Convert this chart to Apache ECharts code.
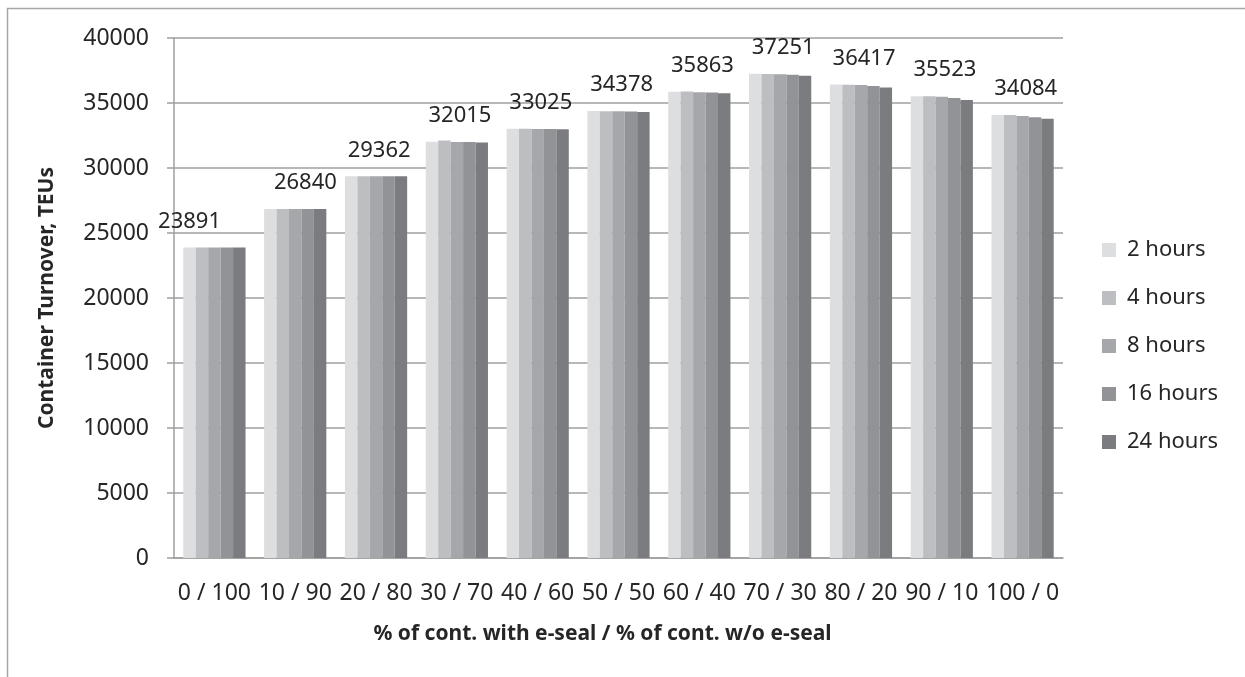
<!DOCTYPE html>
<html>
<head>
<meta charset="utf-8">
<title>Container Turnover by e-seal share</title>
<script src="https://cdn.jsdelivr.net/npm/echarts@6/dist/echarts.min.js"></script>
<style>
  html, body { margin: 0; padding: 0; background: #ffffff; }
  #chart { width: 1245px; height: 677px; }
</style>
</head>
<body>
<div id="chart"></div>
<script>
// Share of containers with e-seal / without e-seal
const categories = ['0 / 100', '10 / 90', '20 / 80', '30 / 70', '40 / 60', '50 / 50',
                    '60 / 40', '70 / 30', '80 / 20', '90 / 10', '100 / 0'];

// Container turnover (TEUs) for each inspection time window
const seriesNames = ['2 hours', '4 hours', '8 hours', '16 hours', '24 hours'];
const hours2  = [23891, 26840, 29362, 32015, 33025, 34378, 35863, 37251, 36417, 35523, 34084];
const hours4  = [23891, 26840, 29362, 32120, 33020, 34370, 35880, 37240, 36410, 35510, 34070];
const hours8  = [23891, 26840, 29362, 32000, 33000, 34360, 35830, 37220, 36380, 35480, 34000];
const hours16 = [23891, 26840, 29362, 32000, 33000, 34340, 35800, 37180, 36300, 35380, 33900];
const hours24 = [23891, 26840, 29362, 31970, 32980, 34300, 35750, 37100, 36200, 35230, 33780];

const yTicks = { min: 0, max: 40000, interval: 5000 };

const palette = ['#dddee0', '#bdbec1', '#a6a7aa', '#929396', '#7b7c7f'];
const textColor = '#262626';
const lineColor = '#9f9f9f';
const fontFamily = '"Noto Sans", "Open Sans", sans-serif';

// horizontal nudge of the value labels (drawn on the 2-hour bars)
const labelNudge = [0, 35, 28, 28, 28, 28, 28, 28, 28, 28, 28];

const allValues = [hours2, hours4, hours8, hours16, hours24];

const series = allValues.map((vals, i) => {
  const s = {
    name: seriesNames[i],
    type: 'bar',
    barGap: '0%',
    barCategoryGap: '23%',
    itemStyle: { color: palette[i] },
    emphasis: { disabled: true },
    data: vals.slice()
  };
  if (i === 0) {
    s.data = vals.map((v, k) => ({
      value: v,
      label: { offset: [labelNudge[k], 0] }
    }));
    s.label = {
      show: true,
      position: 'top',
      distance: 15,
      color: textColor,
      fontFamily: fontFamily,
      fontSize: 22
    };
  }
  return s;
});

const chart = echarts.init(document.getElementById('chart'), null, { renderer: 'canvas' });

chart.setOption({
  backgroundColor: '#ffffff',
  animation: false,
  textStyle: { fontFamily: fontFamily, color: textColor },
  graphic: [{
    type: 'rect',
    shape: { x: 7.5, y: 8.5, width: 1400, height: 900 },
    style: { fill: 'none', stroke: '#a6a6a6', lineWidth: 1.5 },
    silent: true
  }],
  grid: { left: 174, right: 182, top: 38, bottom: 119, containLabel: false },
  legend: {
    orient: 'vertical',
    left: 1097,
    top: 234,
    itemWidth: 14,
    itemHeight: 14,
    itemGap: 26,
    icon: 'rect',
    selectedMode: false,
    textStyle: { fontFamily: fontFamily, fontSize: 22, color: textColor, padding: [0, 0, 0, 6] },
    data: seriesNames
  },
  xAxis: {
    type: 'category',
    data: categories,
    name: '% of cont. with e-seal / % of cont. w/o e-seal',
    nameLocation: 'middle',
    nameGap: 66,
    nameTextStyle: { fontFamily: fontFamily, fontSize: 21, fontWeight: 'bold', color: textColor, padding: [0, 32, 0, 0] },
    axisLine: { show: true, lineStyle: { color: lineColor, width: 1.5 } },
    axisTick: { show: false },
    axisLabel: { interval: 0, margin: 24, fontFamily: fontFamily, fontSize: 23, color: textColor }
  },
  yAxis: {
    type: 'value',
    min: yTicks.min,
    max: yTicks.max,
    interval: yTicks.interval,
    name: 'Container Turnover, TEUs',
    nameLocation: 'middle',
    nameGap: 116,
    nameTextStyle: { fontFamily: fontFamily, fontSize: 21, fontWeight: 'bold', color: textColor },
    axisLine: { show: true, lineStyle: { color: lineColor, width: 1.5 } },
    axisTick: { show: true, length: 7, lineStyle: { color: lineColor, width: 1.5 } },
    splitLine: { show: true, lineStyle: { color: lineColor, width: 1.5 } },
    axisLabel: {
      margin: 25,
      fontFamily: fontFamily,
      fontSize: 23,
      color: textColor,
      formatter: (v) => String(v)
    }
  },
  series: series
});
</script>
</body>
</html>
